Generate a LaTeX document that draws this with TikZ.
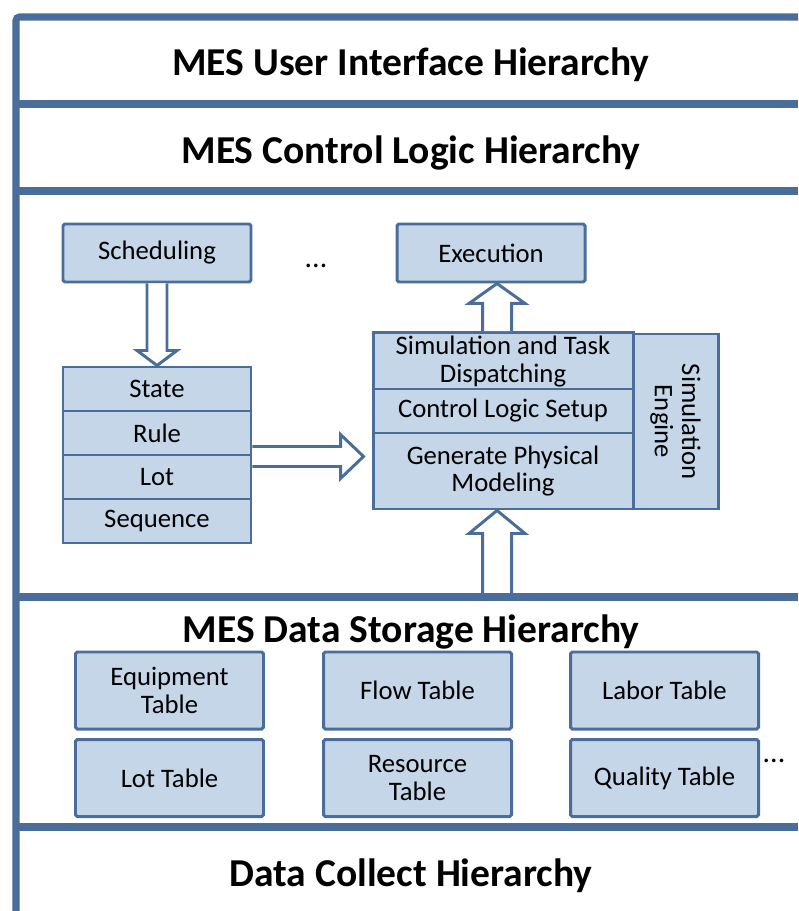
\documentclass[tikz,border=0pt]{standalone}
\usepackage{fontspec}
\setmainfont{Carlito}
\usetikzlibrary{calc}
\definecolor{cframe}{HTML}{4A6E99}
\definecolor{cfill}{HTML}{C5D6E8}
\tikzset{
  every picture/.style={line width=1.7pt},
  box/.style={draw=cframe, fill=cfill, rounded corners=1pt, align=center, inner sep=2pt, font=\fontsize{15.2}{15.6}\selectfont},
  wh/.style 2 args={minimum width=#1*0.02cm, minimum height=#2*0.02cm},
  hollow/.style={draw=cframe, fill=white, line width=1.7pt, line join=miter},
  layer/.style={draw=cframe, line width=4pt},
  title/.style={font=\fontsize{22.5}{26}\selectfont\bfseries},
  dots/.style={font=\fontsize{17}{18}\selectfont},
}

\begin{document}
\begin{tikzpicture}[x=0.02cm, y=-0.02cm]
  \useasboundingbox (0,0) rectangle (798,911);
  % hierarchy titles
  \foreach \y/\t [count=\k] in {65/MES User Interface Hierarchy, 153/MES Control Logic Hierarchy, 632/MES Data Storage Hierarchy, 876/Data Collect Hierarchy}
    \node[title] (title\k) at (411,\y) {\t};
  % control logic: left side
  \node[box, wh={188}{58}] (sched) at (157,253) {Scheduling};
  \node[dots] (dots1) at (316,266) {...};
  \foreach \t/\y/\n in {State/389/state, Rule/433/rule, Lot/477/lot, Sequence/521/seq}
    \node[box, rounded corners=0pt, wh={188}{44}] (\n) at (157,\y) {\t};
  % control logic: right side
  \node[box, wh={188}{58}] (exec) at (491,253) {Execution};
  \node[box, rounded corners=0pt, wh={260}{55}] (sim) at (503,361.5) {Simulation and Task\\Dispatching};
  \node[box, rounded corners=0pt, wh={260}{44}] (ctrl) at (503,411) {Control Logic Setup};
  \node[box, rounded corners=0pt, wh={260}{76}] (gen) at (503,471) {Generate Physical\\Modeling};
  \node[box, rounded corners=0pt, rotate=-90, wh={175}{85}] (eng) at (675.5,421.5) {Simulation\\Engine};
  % data storage tables
  \foreach \t/\x/\y/\n in {{Equipment\\Table}/169.5/690.5/equip, {Flow Table}/417.5/690.5/flow, {Labor Table}/664.5/690.5/labor,
                           {Lot Table}/169.5/778/lottab, {Resource\\Table}/417.5/778/res, {Quality Table}/664.5/778/qual}
    \node[box, wh={188}{77}] (\n) at (\x,\y) {\t};
  \node[dots] (dots2) at (774,761) {...};
  % block arrows
  \draw[hollow] ($(sched.south)+(-10,0)$) -- ($(state.north)+(-10,-15)$) -- ($(state.north)+(-20,-15)$) -- (state.north)
    -- ($(state.north)+(20,-15)$) -- ($(state.north)+(10,-15)$) -- ($(sched.south)+(10,0)$);
  \coordinate (rtip) at ($(rule.south east -| gen.west)+(-8,0)$);
  \draw[hollow] ($(rule.south east)+(0,-10)$) -- ($(rtip)+(-23,-10)$) -- ($(rtip)+(-23,-22)$) -- (rtip)
    -- ($(rtip)+(-23,22)$) -- ($(rtip)+(-23,10)$) -- ($(rule.south east)+(0,10)$);
  \coordinate (ubase) at ($(sim.north)+(-6,0)$);
  \coordinate (utip) at (ubase |- exec.south);
  \draw[hollow] ($(ubase)+(-14.5,0)$) -- ($(utip)+(-14.5,20)$) -- ($(utip)+(-28,20)$) -- (utip)
    -- ($(utip)+(28,20)$) -- ($(utip)+(14.5,20)$) -- ($(ubase)+(14.5,0)$);
  \coordinate (dbase) at (497,597);
  \coordinate (dtip) at ($(gen.south)+(-6,0)$);
  \draw[hollow] ($(dbase)+(-14.5,0)$) -- ($(dtip)+(-14.5,23)$) -- ($(dtip)+(-28,23)$) -- (dtip)
    -- ($(dtip)+(28,23)$) -- ($(dtip)+(14.5,23)$) -- ($(dbase)+(14.5,0)$);
  % layer frame
  \draw[layer, rounded corners=2pt] (798,17) -- (16,17) -- (16,911);
  \foreach \y in {104,191,597,827} \draw[layer] (16,\y) -- (798,\y);
\end{tikzpicture}
\end{document}
